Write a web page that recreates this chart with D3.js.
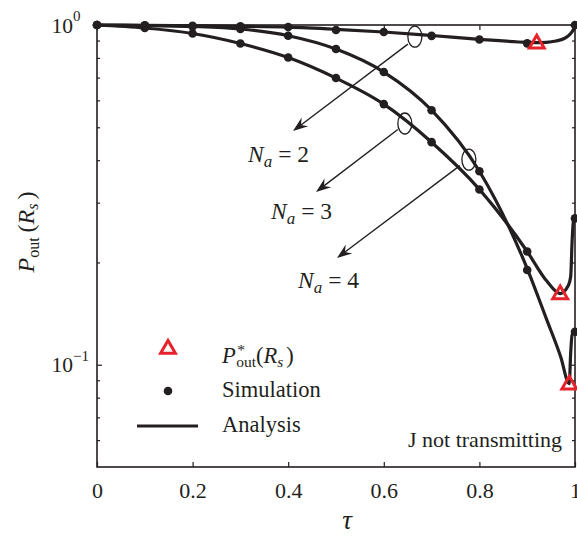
<!DOCTYPE html>
<html><head><meta charset="utf-8">
<script src="https://cdn.jsdelivr.net/npm/d3@7/dist/d3.min.js"></script>
<style>
body{margin:0;background:#fff}
svg{display:block}
</style>
</head><body>
<svg id="c" width="577" height="536"></svg>
<script>
// ---------- data ----------
const xTicks = [0, 0.2, 0.4, 0.6, 0.8, 1];
const xTickLabels = ["0", "0.2", "0.4", "0.6", "0.8", "1"];
const yMajor = [0.1, 1];
const yMajorLabels = [["10", "\u22121"], ["10", "0"]];
const yMinor = [0.06, 0.07, 0.08, 0.09, 0.2, 0.3, 0.4, 0.5, 0.6, 0.7, 0.8, 0.9];

// analysis curves
const tauNa2 = [0, 0.1, 0.2, 0.3, 0.4, 0.5, 0.6, 0.7, 0.8, 0.9, 0.92, 0.94, 0.96, 0.98, 0.99, 0.997, 1.0];
const anaNa2 = [1, 0.998, 0.9953, 0.9912, 0.9852, 0.9712, 0.9536, 0.9312, 0.9075, 0.8892, 0.8873, 0.8892, 0.8971, 0.916, 0.941, 0.973, 1];

const tauNa3 = [0, 0.1, 0.2, 0.3, 0.4, 0.5, 0.6, 0.7, 0.8, 0.9, 0.94, 0.969, 0.986, 0.991, 0.994, 0.997, 1.0];
const anaNa3 = [1, 0.9798, 0.944, 0.882, 0.8019, 0.6976, 0.5847, 0.4518, 0.3283, 0.2154, 0.177, 0.162, 0.171, 0.1818, 0.232, 0.266, 0.2697];

const tauNa4 = [0, 0.1, 0.2, 0.3, 0.4, 0.5, 0.6, 0.7, 0.8, 0.9, 0.94, 0.97, 0.988, 0.991, 0.994, 1.0];
const anaNa4 = [1, 0.9966, 0.9899, 0.9732, 0.93, 0.8495, 0.7268, 0.5613, 0.371, 0.1919, 0.1367, 0.1056, 0.0879, 0.1085, 0.1226, 0.1251];

// simulation points
const tauSim = [0, 0.1, 0.2, 0.3, 0.4, 0.5, 0.6, 0.7, 0.8, 0.9, 1.0];
const simNa2 = [1, 0.998, 0.995, 0.991, 0.986, 0.967, 0.954, 0.929, 0.906, 0.883, 1];
const simNa3 = [1, 0.98, 0.944, 0.882, 0.802, 0.698, 0.585, 0.452, 0.328, 0.2154, 0.2697];
const simNa4 = [1, 0.9966, 0.99, 0.973, 0.93, 0.85, 0.727, 0.561, 0.371, 0.19, 0.125];

// optimal points P*out(Rs)
const tauOpt = [0.92, 0.969, 0.988];
const pOpt = [0.887, 0.162, 0.0879];

// annotations: ellipse on curve (tau, P), label text
const annNa = ["2", "3", "4"];
const annTau = [0.665, 0.644, 0.778];
const annP = [0.924, 0.513, 0.4016];

// ---------- drawing ----------
const FONT = '"Liberation Serif","Times New Roman",serif';
const ink = "#231f20", red = "#e6232a";
const svg = d3.select("#c");
const L = 97, R = 575, T = 25, B = 467;
const x = d3.scaleLinear().domain([0, 1]).range([L, R]);
const y = d3.scaleLog().domain([0.05, 1]).range([B, T]);

// axes
const axG = svg.append("g");
const bx = axG.append("g").attr("transform", `translate(0,${B})`)
  .call(d3.axisBottom(x).tickValues(xTicks).tickSize(-5).tickSizeOuter(0).tickPadding(15)
    .tickFormat((d, i) => xTickLabels[i]));
axG.append("g").attr("transform", `translate(0,${T})`)
  .call(d3.axisTop(x).tickValues(xTicks).tickSize(-5).tickSizeOuter(0).tickFormat(""));
axG.append("g").attr("transform", `translate(${L},0)`)
  .call(d3.axisLeft(y).tickValues(yMinor).tickSize(-3).tickSizeOuter(0).tickFormat(""));
axG.append("g").attr("transform", `translate(${L},0)`)
  .call(d3.axisLeft(y).tickValues(yMajor).tickSize(-5).tickSizeOuter(0).tickFormat(""));
axG.append("g").attr("transform", `translate(${R},0)`)
  .call(d3.axisRight(y).tickValues(yMinor).tickSize(-3).tickSizeOuter(0).tickFormat(""));
axG.append("g").attr("transform", `translate(${R},0)`)
  .call(d3.axisRight(y).tickValues(yMajor).tickSize(-5).tickSizeOuter(0).tickFormat(""));
axG.selectAll(".domain").remove();
axG.selectAll(".tick line").attr("stroke", ink).attr("stroke-width", 1.2);
bx.selectAll("text").attr("font-size", 22).attr("fill", ink);

// y labels (10^k)
yMajor.forEach((v, i) => {
  svg.append("text").attr("x", 73).attr("y", y(v) + 7.5)
    .attr("font-size", 21.5).attr("text-anchor", "end").text(yMajorLabels[i][0]);
  svg.append("text").attr("x", 73).attr("y", y(v) - 4)
    .attr("font-size", 15).text(yMajorLabels[i][1]);
});

// frame
svg.append("rect").attr("x", L).attr("y", T).attr("width", R - L).attr("height", B - T)
  .attr("fill", "none").attr("stroke", ink).attr("stroke-width", 1.6);

// curves
const line = d3.line().x(d => x(d[0])).y(d => y(d[1])).curve(d3.curveMonotoneX);
[[tauNa2, anaNa2], [tauNa3, anaNa3], [tauNa4, anaNa4]].forEach(([t, p]) => {
  svg.append("path").datum(t.map((v, i) => [v, p[i]]))
    .attr("d", line).attr("fill", "none").attr("stroke", ink).attr("stroke-width", 3.2)
    .attr("stroke-linejoin", "round");
});

// simulation dots
[simNa2, simNa3, simNa4].forEach(s => {
  svg.append("g").selectAll("circle").data(tauSim.map((t, i) => [t, s[i]])).join("circle")
    .attr("cx", d => x(d[0])).attr("cy", d => y(d[1])).attr("r", 4.3).attr("fill", ink);
});

// triangles
const tri = d3.symbol().type(d3.symbolTriangle).size(95);
function triangle(g, cx, cy) {
  g.append("path").attr("d", tri).attr("transform", `translate(${cx},${cy + 1})`)
    .attr("fill", "none").attr("stroke", red).attr("stroke-width", 3).attr("stroke-linejoin", "miter");
}
tauOpt.forEach((t, i) => triangle(svg, x(t), y(pOpt[i])));

// annotations
const arrowOff = [[-7, 7.5, 293, 131, 248, 162], [-7, 6, 316, 192, 271, 219], [-9, 6, 337, 258, 298, 288]];
annNa.forEach((n, i) => {
  const cx = x(annTau[i]), cy = y(annP[i]);
  svg.append("ellipse").attr("cx", cx).attr("cy", cy).attr("rx", 7).attr("ry", 10.5)
    .attr("fill", "none").attr("stroke", ink).attr("stroke-width", 1.3);
  const [ox, oy, tipX, tipY, lx, ly] = arrowOff[i];
  const sx = cx + ox, sy = cy + oy;
  const ang = Math.atan2(tipY - sy, tipX - sx);
  const len = 15, hw = 5.5, notch = 10;
  const ca = Math.cos(ang), sa = Math.sin(ang);
  const p = (a, b) => [tipX + a * ca - b * sa, tipY + a * sa + b * ca];
  svg.append("line").attr("x1", sx).attr("y1", sy).attr("x2", p(-notch, 0)[0]).attr("y2", p(-notch, 0)[1])
    .attr("stroke", ink).attr("stroke-width", 1.4);
  svg.append("path").attr("d", "M" + [p(0, 0), p(-len, -hw), p(-notch, 0), p(-len, hw)].map(q => q.join(",")).join("L") + "Z")
    .attr("fill", ink);
  const t = svg.append("text").attr("x", lx).attr("y", ly).attr("font-size", 23.5);
  t.append("tspan").attr("font-style", "italic").text("N");
  t.append("tspan").attr("font-style", "italic").attr("font-size", 17).attr("dy", 5).text("a");
  t.append("tspan").attr("dy", -5).attr("dx", 6).text("= " + n);
});

// legend
triangle(svg, 168, 348);
svg.append("circle").attr("cx", 168).attr("cy", 391).attr("r", 4.3).attr("fill", ink);
svg.append("line").attr("x1", 137).attr("x2", 198).attr("y1", 426).attr("y2", 426)
  .attr("stroke", ink).attr("stroke-width", 3.2);
(function () {
  let cx = 222; const by = 362.5;
  const P = svg.append("text").attr("x", cx).attr("y", by).attr("font-size", 22.5).attr("font-style", "italic")
    .style("font-family", FONT).text("P");
  cx += P.node().getComputedTextLength() + 0.5;
  const o = svg.append("text").attr("x", cx).attr("y", by + 4).attr("font-size", 15.5).style("font-family", FONT).text("out");
  svg.append("text").attr("x", cx + 1).attr("y", by - 8).attr("font-size", 15.5).style("font-family", FONT).text("*");
  cx += o.node().getComputedTextLength();
  const t2 = svg.append("text").attr("x", cx).attr("y", by).attr("font-size", 22.5).style("font-family", FONT);
  t2.append("tspan").text("(");
  t2.append("tspan").attr("font-style", "italic").text("R");
  t2.append("tspan").attr("font-style", "italic").attr("font-size", 15.5).attr("dy", 4).text("s");
  t2.append("tspan").attr("dy", -4).attr("dx", 3).text(")");
})();
svg.append("text").attr("x", 222).attr("y", 397).attr("font-size", 22.5).text("Simulation");
svg.append("text").attr("x", 222).attr("y", 432).attr("font-size", 22.5).text("Analysis");

// J not transmitting
svg.append("text").attr("x", 562).attr("y", 447).attr("font-size", 22).attr("text-anchor", "end")
  .text("J not transmitting");

// axis titles
svg.append("text").attr("x", 347).attr("y", 529).attr("font-size", 27).attr("font-style", "italic")
  .attr("text-anchor", "middle").text("\u03c4");
const yl = svg.append("text").attr("transform", "translate(34,232) rotate(-90)")
  .attr("font-size", 24).attr("text-anchor", "middle");
yl.append("tspan").attr("font-style", "italic").text("P");
yl.append("tspan").attr("font-size", 16).attr("dy", 5).text("out");
yl.append("tspan").attr("dy", -5).attr("dx", 5).text("(");
yl.append("tspan").attr("font-style", "italic").text("R");
yl.append("tspan").attr("font-style", "italic").attr("font-size", 16).attr("dy", 4).text("s");
yl.append("tspan").attr("dy", -4).attr("dx", 4).text(")");

// apply serif font to every text
svg.selectAll("text").style("font-family", FONT).style("fill", ink);
</script>
</body></html>
